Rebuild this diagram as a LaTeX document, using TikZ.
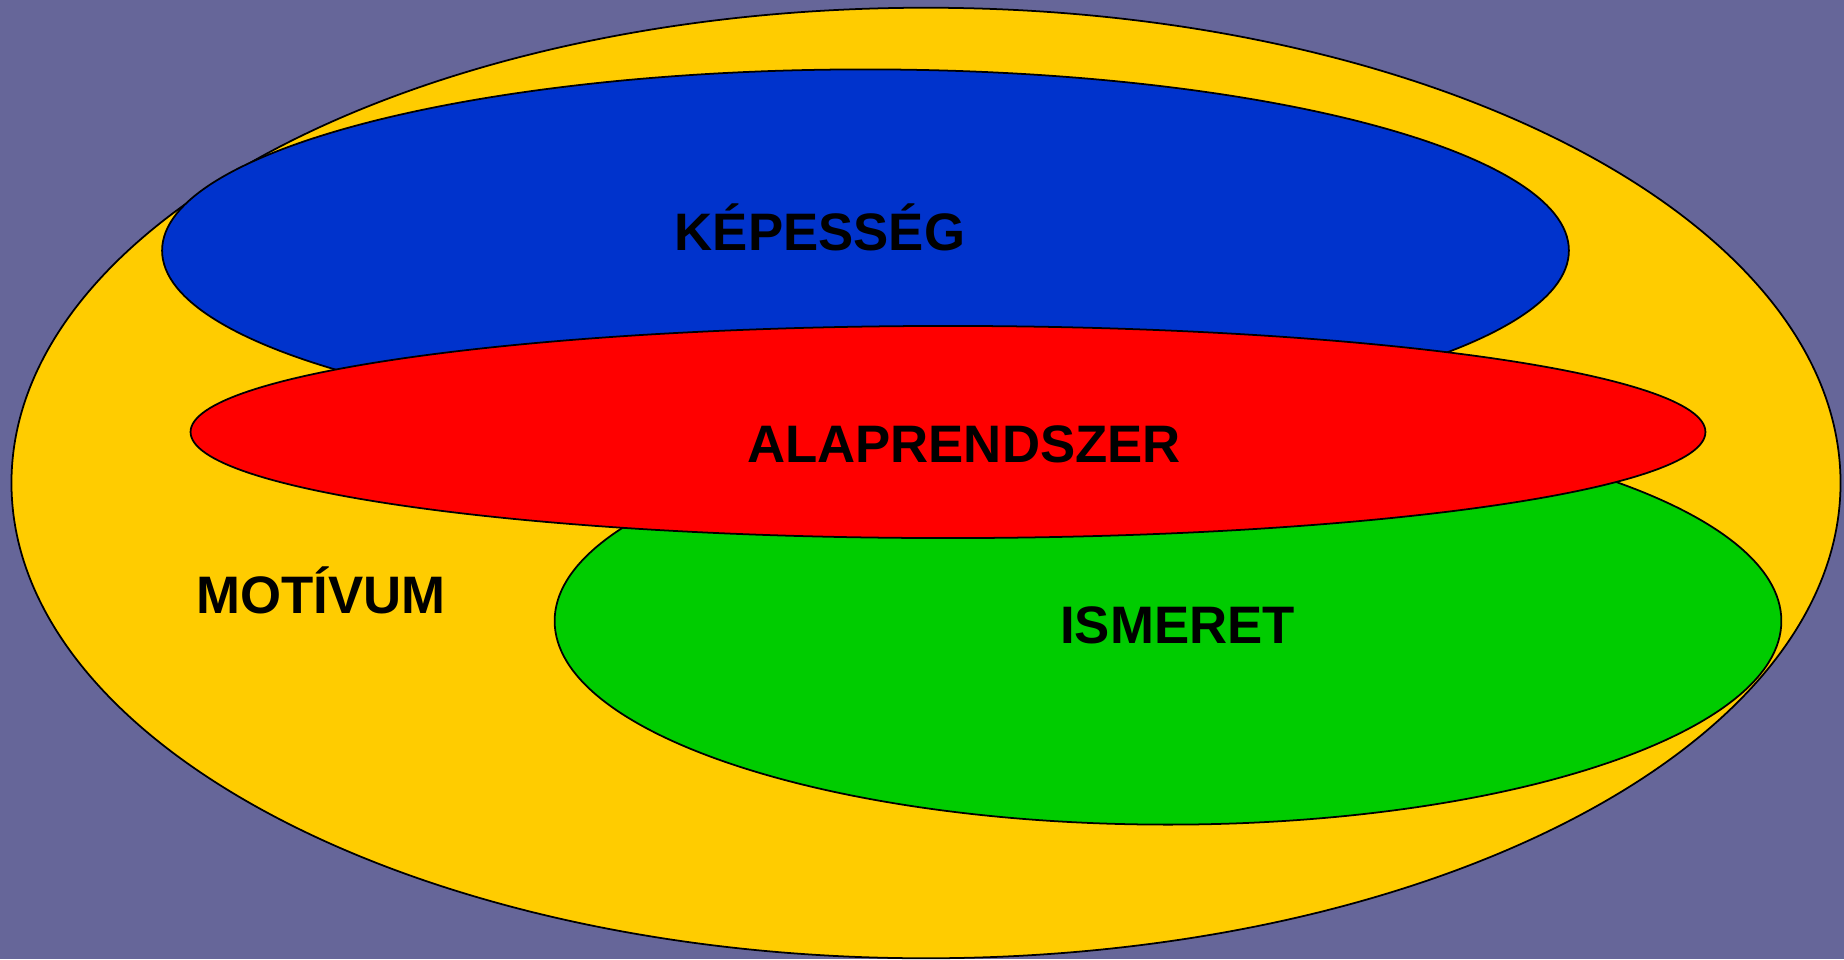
\documentclass[tikz,border=0pt]{standalone}
\usepackage{fontspec}
\setmainfont{Liberation Sans}
\definecolor{fond}{RGB}{102,102,153}
\definecolor{jaune}{RGB}{255,204,0}
\definecolor{bleu}{RGB}{0,51,204}
\definecolor{rouge}{RGB}{255,0,0}
\definecolor{vert}{RGB}{0,204,0}
\begin{document}
\begin{tikzpicture}[x=0.01cm,y=0.01cm,
  halmaz/.style={draw=black,line width=0.5pt},
  felirat/.style={anchor=base,inner sep=0pt,font=\fontsize{15}{18}\selectfont\bfseries}]
\fill[fond] (0,0) rectangle (1844,959);
\useasboundingbox (0,0) rectangle (1844,959);
\draw[halmaz,fill=jaune] (926,476) ellipse [x radius=9.14cm, y radius=4.75cm];
\draw[halmaz,fill=bleu] (865.5,708.5) ellipse [x radius=7.03cm, y radius=1.81cm];
\draw[halmaz,fill=vert] (1168,338) ellipse [x radius=6.13cm, y radius=2.035cm];
\draw[halmaz,fill=rouge] (948,527) ellipse [x radius=7.57cm, y radius=1.06cm];
\node[felirat] (kepesseg) at (820,709) {KÉPESSÉG};
\node[felirat] (alap) at (964,497) {ALAPRENDSZER};
\node[felirat] (motivum) at (321,346) {MOTÍVUM};
\node[felirat] (ismeret) at (1177.5,316) {ISMERET};
\end{tikzpicture}
\end{document}
